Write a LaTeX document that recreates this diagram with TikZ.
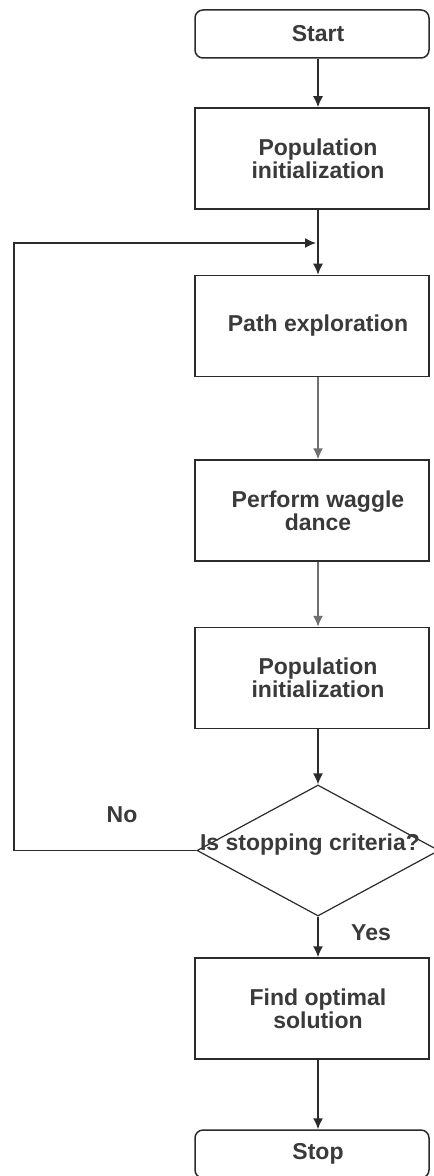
\documentclass[tikz,border=0pt]{standalone}
\usepackage{fontspec}
\setmainfont{Liberation Sans}
\usetikzlibrary{arrows.meta,shapes.geometric,calc}
\definecolor{lineC}{HTML}{2B2B2B}
\definecolor{lineG}{HTML}{707070}
\definecolor{txtC}{HTML}{3A3A3A}
\newcommand{\sh}{\hspace*{6pt}}
\begin{document}
\begin{tikzpicture}[x=0.5pt,y=-0.5pt,
  txt/.style={font=\fontsize{11.5pt}{11.5pt}\selectfont\bfseries, text=txtC},
  stepbox/.style={txt, draw=lineC, line width=0.75pt, rectangle, minimum width=117pt, minimum height=50.5pt, inner sep=0pt, align=center},
  termbox/.style={stepbox, rounded corners=4pt, minimum height=24pt},
  decide/.style={txt, draw=lineC, line width=0.6pt, diamond, minimum width=121pt, minimum height=65.5pt, inner sep=0pt},
  conn/.style={draw=lineC, line width=0.75pt, -{Latex[length=5.5pt,width=5pt]}},
  conng/.style={conn, draw=lineG}
]
\useasboundingbox (0,0) rectangle (433,1176);
\fill[white] (0,0) rectangle (433,1176);

\node[termbox] (start) at (312,34) {\sh Start};
\node[stepbox] (pop1) at (312,158.5) {\sh Population\\ \sh initialization};
\node[stepbox] (path) at (312,326) {\sh Path exploration};
\node[stepbox] (waggle) at (312,510.5) {\sh Perform waggle\\ \sh dance};
\node[stepbox] (pop2) at (312,678) {\sh Population\\ \sh initialization};
\node[decide] (dec) at (318,850.5) {\smash{\makebox[0pt]{\hspace*{-8pt}Is stopping criteria?}}};
\node[stepbox] (find) at (312,1008.5) {\sh Find optimal\\ \sh solution};
\node[termbox] (stop) at (312,1154) {\sh Stop};

\coordinate (join) at (318,243);
\coordinate (leftc) at (14,850.5);

\draw[conn] ([xshift=3pt]start.south) -- ([xshift=3pt]pop1.north);
\draw[conn] ([xshift=3pt]pop1.south) -- ([xshift=3pt]path.north);
\draw[conng] ([xshift=3pt]path.south) -- ([xshift=3pt]waggle.north);
\draw[conng] ([xshift=3pt]waggle.south) -- ([xshift=3pt]pop2.north);
\draw[conn] ([xshift=3pt]pop2.south) -- (dec.north);
\draw[conn] (dec.south) -- ([xshift=3pt]find.north);
\draw[conn] ([xshift=3pt]find.south) -- ([xshift=3pt]stop.north);
\draw[conn, shorten >=1pt] (dec.west) -- (leftc) |- (join);

\node[txt] (no) at (122,815) {No};
\node[txt] (yes) at (371,933) {Yes};
\end{tikzpicture}
\end{document}
